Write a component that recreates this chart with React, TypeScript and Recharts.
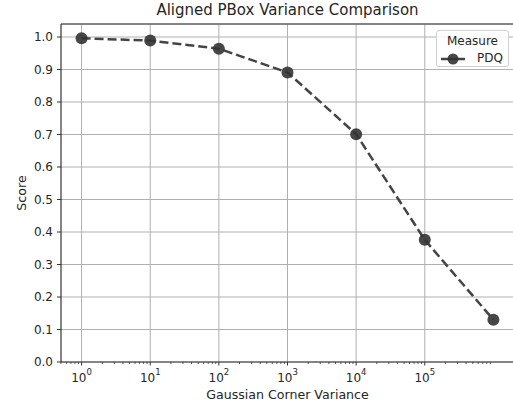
import React from 'react';
import { LineChart, Line, XAxis, YAxis, CartesianGrid, ReferenceLine, Legend } from 'recharts';

const variances = [1, 10, 100, 1000, 10000, 100000, 1000000];
const pdqScores = [0.996, 0.989, 0.964, 0.891, 0.701, 0.376, 0.130];
const majorTicks = [1, 10, 100, 1000, 10000, 100000];
const minorMultipliers = [2, 3, 4, 5, 6, 7, 8, 9];
const yTicks = [0, 0.1, 0.2, 0.3, 0.4, 0.5, 0.6, 0.7, 0.8, 0.9, 1.0];

const data = variances.map((v, i) => ({ variance: v, PDQ: pdqScores[i] }));
const minorTicks: number[] = [];
[0.1, ...majorTicks].forEach((m) => minorMultipliers.forEach((k) => minorTicks.push(m * k)));
const allXTicks = [...majorTicks, ...minorTicks].filter((t) => t >= 0.5 && t < 2000000).sort((a, b) => a - b);

const FONT = 'DejaVu Sans, sans-serif';
const TXT = '#262626';
const AX = '#333333';

const XTick = (props: any) => {
  const { x, y, payload } = props;
  const v = payload.value;
  const exp = Math.round(Math.log10(v));
  const isMajor = Math.abs(Math.log10(v) - exp) < 1e-6 && majorTicks.includes(v);
  if (!isMajor) {
    return <line x1={x} x2={x} y1={y} y2={y + 2} stroke={AX} strokeWidth={0.8} />;
  }
  return (
    <g>
      <line x1={x} x2={x} y1={y} y2={y + 3.5} stroke={AX} strokeWidth={1} />
      <text x={x} y={y + 20} textAnchor="middle" fontFamily={FONT} fontSize={12} fill={TXT}>
        <tspan>10</tspan>
        <tspan dy={-7} fontSize={8.5}>{exp}</tspan>
      </text>
    </g>
  );
};

const LegendContent = () => (
  <div
    style={{
      width: 71,
      height: 35,
      border: '1px solid #d0d0d0',
      borderRadius: 3,
      background: 'rgba(255,255,255,0.85)',
      fontFamily: FONT,
      fontSize: 12,
      color: TXT,
      position: 'relative',
    }}
  >
    <div style={{ position: 'absolute', left: 0, width: 71, top: 3, textAlign: 'center' }}>Measure</div>
    <svg style={{ position: 'absolute', left: 3, top: 22 }} width={26} height={12}>
      <line x1={1} x2={25} y1={6} y2={6} stroke="#444" strokeWidth={2.5} />
      <circle cx={13} cy={6} r={5.5} fill="#333" fillOpacity={0.9} />
    </svg>
    <div style={{ position: 'absolute', left: 40, top: 20 }}>PDQ</div>
  </div>
);

export default function App() {
  return (
    <div style={{ position: 'absolute', left: 0, top: 0, width: 513, height: 405, overflow: 'hidden', background: '#fff' }}>
      <div
        style={{
          position: 'absolute',
          left: 61,
          width: 453,
          top: 1,
          textAlign: 'center',
          fontFamily: FONT,
          fontSize: 15,
          color: TXT,
        }}
      >
        Aligned PBox Variance Comparison
      </div>
      <LineChart width={520} height={405} data={data} margin={{ top: 24, right: 6, bottom: 0, left: 0 }}>
        <CartesianGrid vertical={false} stroke="#b0b0b0" strokeWidth={1} />
        {majorTicks.map((t) => (
          <ReferenceLine key={t} x={t} stroke="#b0b0b0" strokeWidth={1} />
        ))}
        <ReferenceLine y={1.04} stroke={AX} strokeWidth={1.2} />
        <XAxis
          dataKey="variance"
          type="number"
          scale="log"
          domain={[Math.pow(10, -0.3), Math.pow(10, 6.3)]}
          allowDataOverflow
          ticks={allXTicks}
          interval={0}
          tick={<XTick />}
          tickLine={false}
          tickSize={0}
          tickMargin={0}
          axisLine={{ stroke: AX, strokeWidth: 1.2 }}
          height={43}
          label={({ viewBox }: any) => (
            <text
              x={viewBox.x + viewBox.width / 2}
              y={viewBox.y + 37}
              textAnchor="middle"
              fontFamily={FONT}
              fontSize={12.6}
              fill={TXT}
            >
              Gaussian Corner Variance
            </text>
          )}
        />
        <YAxis
          type="number"
          domain={[0, 1.04]}
          ticks={yTicks}
          interval={0}
          allowDataOverflow
          width={61}
          tickSize={4}
          tickMargin={4}
          tickFormatter={(v: number) => v.toFixed(1)}
          tick={{ fontFamily: FONT, fontSize: 12, fill: TXT }}
          tickLine={{ stroke: AX, strokeWidth: 1 }}
          axisLine={{ stroke: AX, strokeWidth: 1.2 }}
          label={({ viewBox }: any) => {
            const cx = viewBox.x + 21;
            const cy = viewBox.y + viewBox.height / 2;
            return (
              <text
                x={cx}
                y={cy}
                transform={`rotate(-90 ${cx} ${cy})`}
                textAnchor="middle"
                dominantBaseline="central"
                fontFamily={FONT}
                fontSize={12.6}
                fill={TXT}
              >
                Score
              </text>
            );
          }}
        />
        <Legend
          layout="vertical"
          align="center"
          verticalAlign="middle"
          content={<LegendContent />}
          wrapperStyle={{ position: 'absolute', left: 436, top: 30, width: 73, height: 37, transform: 'none' }}
        />
        <Line
          type="linear"
          dataKey="PDQ"
          stroke="#444444"
          strokeWidth={2.5}
          strokeDasharray="9 4"
          dot={{ r: 6, fill: '#333333', fillOpacity: 0.9, stroke: 'none' }}
          activeDot={false}
          isAnimationActive={false}
        />
      </LineChart>
    </div>
  );
}
